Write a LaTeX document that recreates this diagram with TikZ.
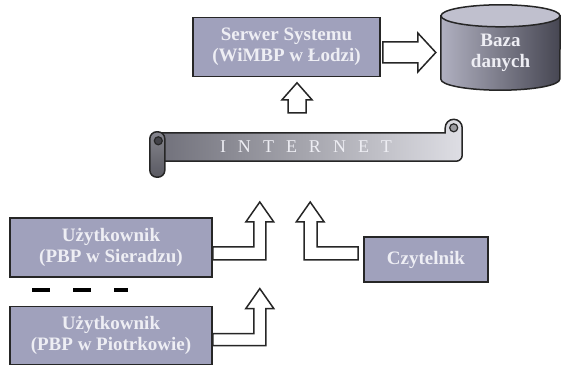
\documentclass[tikz,border=0pt]{standalone}
\usepackage{fontspec}
\setmainfont{Liberation Serif}
\usepackage{tikz}
\usetikzlibrary{positioning}
\usetikzlibrary{calc}
\usetikzlibrary{backgrounds}
\definecolor{boxfill}{RGB}{160,161,188}
\definecolor{boxtext}{RGB}{238,238,244}
\definecolor{dblight}{RGB}{176,176,192}
\definecolor{dbdark}{RGB}{70,70,82}
\definecolor{dbtop}{RGB}{192,192,206}
\definecolor{bandleft}{RGB}{112,112,122}
\definecolor{bandright}{RGB}{222,222,228}
\tikzset{box/.style={draw=black!85, line width=1.6pt, fill=boxfill, text=boxtext,
  font=\bfseries\fontsize{19}{21}\selectfont, align=center, inner sep=0pt}}
\tikzset{hollow/.style={draw=black!85, line width=1.5pt, fill=white}}

\begin{document}
\begin{tikzpicture}[x=1pt,y=1pt]
\useasboundingbox (0,0) rectangle (561,366);

\node[box, minimum width=187pt, minimum height=59pt] (serwer) at (286.5,319) {Serwer Systemu\\(WiMBP w Łodzi)};
\node[text=boxtext, font=\bfseries\fontsize{19}{21}\selectfont, align=center,
  minimum width=119pt, minimum height=74pt] (baza) at (500.5,313) {Baza\\danych};
\node[text=boxtext, font=\fontsize{18}{18}\selectfont, minimum width=298pt, minimum height=28pt] (internet) at (306,219)
  {I\hspace{12pt}N\hspace{12pt}T\hspace{12pt}E\hspace{12pt}R\hspace{12pt}N\hspace{12pt}E\hspace{12pt}T};
\node[box, minimum width=202pt, minimum height=59pt] (user1) at (111,118.5) {Użytkownik\\(PBP w Sieradzu)};
\node[box, minimum width=202pt, minimum height=58pt, below=28pt of user1] (user2) {Użytkownik\\(PBP w Piotrkowie)};
\node[box, minimum width=124pt, minimum height=45pt] (czyt) at (426,106.5) {Czytelnik};

\begin{scope}[on background layer]
% baza danych
\shade[left color=dblight, right color=dbdark, draw=black!85, line width=1.5pt]
  (baza.north west) -- ($(baza.south west)+(0,11)$) arc[start angle=180, end angle=360, x radius=59.5pt, y radius=11pt]
  -- (baza.north east) -- cycle;
\filldraw[fill=dbtop, draw=black!85, line width=1.5pt] (baza.north) ellipse[x radius=59.5pt, y radius=11pt];
% zwoj INTERNET
\shade[left color=bandleft, right color=bandright, draw=black!85, line width=1.5pt]
  (internet.north west) -- ($(internet.north east)+(-10,0)$) -- ++(0,5) arc[start angle=180, end angle=0, radius=8.5pt]
  -- ($(internet.south east)+(7,6)$) arc[start angle=0, end angle=-90, radius=6pt] -- (internet.south west) -- cycle;
\filldraw[fill=bandright!70!black, draw=black!85, line width=1.2pt] ($(internet.north east)+(-1.5,5)$) circle[radius=4pt];
\shade[top color=bandleft!85, bottom color=bandleft!80!black, draw=black!85, line width=1.5pt, rounded corners=7pt]
  ($(internet.south west)+(-7,-16)$) rectangle ($(internet.north west)+(8,1)$);
\filldraw[fill=bandleft!60!black, draw=black!85, line width=1.2pt] ($(internet.north west)+(1.5,-8)$) circle[radius=4pt];
\end{scope}

% strzalki
\draw[hollow] ($(serwer.east)+(2,5)$) -- ++(35,0) -- ++(0,9) -- ++(18,-19.5) -- ++(-18,-19.5) -- ++(0,9) -- ++(-35,0) -- cycle;
\draw[hollow] ($(internet.north)+(-18,20)$) -- ++(0,13) -- ++(-6,0) -- ++(15,17) -- ++(15,-17) -- ++(-6,0) -- ++(0,-13) -- cycle;
\draw[hollow] ($(user1.east)+(0,0.5)$) -- ++(41,0) -- ++(0,25) -- ++(-8,0) -- ++(14,20) -- ++(14,-20) -- ++(-8,0) -- ++(0,-38) -- ++(-53,0) -- cycle;
\draw[hollow] ($(user2.east)+(0,2)$) -- ++(41,0) -- ++(0,25) -- ++(-8,0) -- ++(14,20) -- ++(14,-20) -- ++(-8,0) -- ++(0,-37) -- ++(-53,0) -- cycle;
\draw[hollow] ($(czyt.west)+(-5,-0.5)$) -- ++(0,13) -- ++(-41,0) -- ++(0,25) -- ++(7,0) -- ++(-14,20) -- ++(-14,-20) -- ++(8,0) -- ++(0,-38) -- ++(54,0) -- cycle;

\draw[line width=4pt, dash pattern=on 18pt off 23pt] (32,76) -- (128,76);
\end{tikzpicture}
\end{document}
